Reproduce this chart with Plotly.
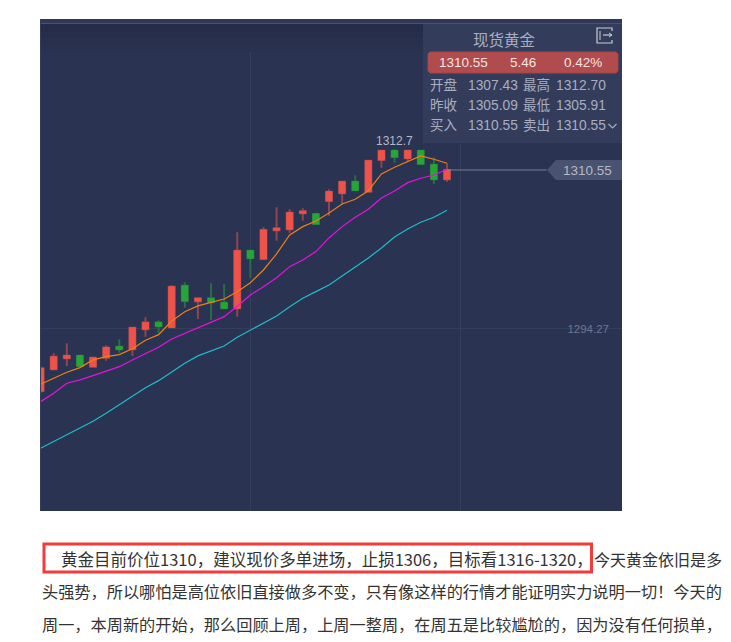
import plotly.graph_objects as go

# ---- data ----
opens = [1287.92,1290.14,1291.27,1291.54,1290.41,1291.33,1292.46,1292.19,1294.24,1294.92,1294.44,1298.70,1297.11,1297.41,1296.96,1296.39,
         1302.29,1301.44,1304.38,1304.48,1306.12,1306.05,1307.38,1308.17,1309.35,1308.33,1311.58,1312.53,1311.75,1312.53,1311.09,1309.60]
closes = [1290.25,1291.43,1291.54,1290.48,1291.33,1292.36,1292.19,1294.40,1294.92,1294.55,1298.60,1297.14,1297.41,1297.00,1296.39,1302.29,
          1301.51,1304.41,1304.58,1306.18,1306.32,1305.02,1308.33,1309.35,1308.47,1311.50,1312.53,1311.88,1312.53,1311.17,1309.60,1310.55]
highs = [1290.40,1291.78,1292.81,1291.54,1291.43,1292.60,1293.22,1294.40,1295.47,1295.16,1298.75,1299.05,1297.52,1298.95,1298.88,1304.17,
         1302.29,1304.68,1306.73,1306.53,1306.63,1306.12,1308.58,1309.35,1310.01,1311.50,1312.53,1312.70,1312.53,1312.60,1311.85,1311.24]
lows = [1287.70,1290.14,1290.48,1290.48,1290.35,1291.02,1291.84,1291.51,1293.48,1293.83,1294.44,1296.45,1295.29,1295.19,1296.39,1295.53,
        1299.52,1301.34,1303.31,1304.13,1305.36,1304.95,1305.87,1307.07,1308.47,1308.33,1310.79,1311.30,1311.40,1311.17,1309.12,1309.35]
ma_orange = [1288.61,1289.25,1289.84,1290.31,1291.10,1291.43,1291.64,1292.25,1293.11,1293.69,1295.09,1296.04,1296.63,1297.00,1297.34,1298.09,
             1299.01,1300.31,1301.95,1303.90,1304.75,1305.33,1306.15,1307.07,1307.55,1308.43,1310.14,1310.83,1311.40,1311.99,1311.65,1311.24]
ma_magenta = [1286.83,1287.69,1288.71,1289.05,1289.49,1289.97,1290.41,1291.10,1291.78,1292.40,1293.25,1293.83,1294.40,1295.02,1295.53,1296.60,
              1297.75,1298.60,1299.52,1300.65,1301.34,1302.19,1303.59,1304.75,1305.71,1306.53,1307.68,1308.40,1309.25,1309.70,1310.04,1310.62]
ma_cyan = [1282.05,1282.73,1283.49,1284.16,1284.82,1285.64,1286.49,1287.34,1288.26,1288.98,1289.90,1290.76,1291.51,1292.05,1292.53,1293.42,
           1294.17,1294.88,1295.60,1296.55,1297.41,1298.09,1298.78,1299.70,1300.62,1301.54,1302.56,1303.69,1304.51,1305.20,1305.71,1306.43]
last_price = 1310.55
mid_price = 1294.27
high_price = 1312.7
title_text = "现货黄金"
quote_bar = ["1310.55", "5.46", "0.42%"]
quote_rows = [["开盘", "1307.43", "最高", "1312.70"],
              ["昨收", "1305.09", "最低", "1305.91"],
              ["买入", "1310.55", "卖出", "1310.55"]]
para_boxed = "黄金目前价位1310，建议现价多单进场，止损1306，目标看1316-1320，"
para_rest = "今天黄金依旧是多"
para_lines = ["头强势，所以哪怕是高位依旧直接做多不变，只有像这样的行情才能证明实力说明一切！今天的",
              "周一，本周新的开始，那么回顾上周，上周一整周，在周五是比较尴尬的，因为没有任何损单，"]

# ---- layout helpers ----
W, H = 731, 642
L, R, T, B = 40, 622, 19, 511
fx = lambda x: (x - L) / (R - L)
fy = lambda y: (B - y) / (B - T)
BG = "#2a3352"
GRID = "#353e5c"
CJK = "Noto Sans CJK SC"
NUM = "Liberation Sans"
xs = list(range(len(opens)))

fig = go.Figure()
fig.add_trace(go.Candlestick(x=xs, open=opens, close=closes, high=highs, low=lows,
    increasing=dict(line=dict(color="#8f4650", width=2), fillcolor="#8f4650"),
    decreasing=dict(line=dict(color="#2b6b48", width=2), fillcolor="#2b6b48"),
    whiskerwidth=0, hoverinfo="skip", showlegend=False))
fig.add_trace(go.Candlestick(x=xs, open=opens, close=closes,
    high=[max(a, b) for a, b in zip(opens, closes)],
    low=[min(a, b) for a, b in zip(opens, closes)],
    increasing=dict(line=dict(color="#ee5349", width=1), fillcolor="#ee5349"),
    decreasing=dict(line=dict(color="#27a637", width=1), fillcolor="#27a637"),
    whiskerwidth=0, hoverinfo="skip", showlegend=False))
for vals, col in ((ma_cyan, "#1fbccc"), (ma_magenta, "#e812e0"), (ma_orange, "#f07f10")):
    fig.add_trace(go.Scatter(x=xs, y=vals, mode="lines", line=dict(color=col, width=1.2),
                             hoverinfo="skip", showlegend=False))

def rect(x0, y0, x1, y1, fill=None, line=None, lw=1):
    return dict(type="rect", xref="paper", yref="paper", x0=fx(x0), x1=fx(x1), y0=fy(y0), y1=fy(y1),
                fillcolor=fill or "rgba(0,0,0,0)", line=dict(color=line or "rgba(0,0,0,0)", width=lw), layer="above")

def poly(points, fill=None, line=None, lw=1, closed=True):
    d = "M" + " L".join(f"{fx(x):.5f},{fy(y):.5f}" for x, y in points) + (" Z" if closed else "")
    return dict(type="path", xref="paper", yref="paper", path=d, fillcolor=fill or "rgba(0,0,0,0)",
                line=dict(color=line or "rgba(0,0,0,0)", width=lw), layer="above")

ICON = "#c9ccd6"
shapes = [
    # top strip and soft dark band
    rect(40, 19, 622, 23, fill="#2f3858"),
    rect(40, 24, 622, 31, fill="#252c49"),
    rect(40, 31, 622, 38, fill="#262e4b"),
    rect(40, 38, 622, 45, fill="#28304e"),
    rect(40, 45, 622, 52, fill="#293150"),
    rect(40, 23, 622, 24, fill="#48516f"),
    rect(40, 19, 41, 511, fill="#343d5c"),
    # quote panel
    rect(423, 24, 622, 143, fill="#333c5a"),
    poly([(430, 52), (616, 52), (618, 54), (618, 71), (616, 73), (430, 73), (428, 71), (428, 54)],
         fill="#b04c4d", line="#a84546"),
    # expand icon
    poly([(612, 31), (612, 28), (597, 28), (597, 43), (612, 43), (612, 40)], line=ICON, lw=1.2, closed=False),
    poly([(600, 31), (600, 40)], line=ICON, lw=1, closed=False),
    poly([(603, 35), (612, 35)], line=ICON, lw=1.2, closed=False),
    poly([(609, 33), (612, 35), (609, 37)], line=ICON, lw=1, closed=False),
    # chevron
    poly([(608.5, 124), (612.5, 128), (616.5, 124)], line="#a8adbf", lw=1.2, closed=False),
    # last price line and tag
    dict(type="line", xref="x", yref="y", x0=31, x1=xs[-1] + 7.6, y0=last_price, y1=last_price,
         line=dict(color="#8a90a4", width=0.8), layer="above"),
    poly([(547, 170), (556, 160), (622, 160), (622, 180), (556, 180)], fill="#495270"),
    # highlight rectangle
    rect(44, 544, 591.5, 572, line="#f53a3a", lw=3),
]

def note(x, y, text, size, color, font=NUM, anchor="left"):
    return dict(xref="paper", yref="paper", x=fx(x), y=fy(y), text=text, showarrow=False,
                xanchor=anchor, yanchor="middle", font=dict(family=font, size=size, color=color))

GREY = "#a9aec0"
anns = [note(504, 39, title_text, 15.5, GREY, CJK, "center"),
        note(463, 62.5, quote_bar[0], 13.5, "#f3e4e4", NUM, "center"),
        note(523, 62.5, quote_bar[1], 13.5, "#f3e4e4", NUM, "center"),
        note(583, 62.5, quote_bar[2], 13.5, "#f3e4e4", NUM, "center"),
        note(587, 170.5, f"{last_price:.2f}", 13.5, "#b5b8c4", NUM, "center"),
        dict(x=xs[27], y=high_price, xref="x", yref="y", text=f"{high_price}", showarrow=False, yanchor="bottom",
             yshift=-1, font=dict(family=NUM, size=12, color="#b4b8c6"))]
for row, y in zip(quote_rows, (85, 105, 125)):
    anns += [note(428, y - 1, row[0], 13.5, GREY, CJK), note(466, y, row[1], 13.8, GREY),
             note(521, y - 1, row[2], 13.5, GREY, CJK), note(554, y, row[3], 13.8, GREY)]
anns.append(note(58.5, 559, para_boxed, 16.5, "#333333", CJK))
anns.append(note(592, 559, para_rest, 16, "#333333", CJK))
for line, y in zip(para_lines, (591, 624)):
    anns.append(note(40, y, line, 16.2, "#333333", CJK))

fig.update_layout(
    width=W, height=H, autosize=False,
    margin=dict(l=L, r=W - R, t=T, b=H - B, pad=0),
    paper_bgcolor="white", plot_bgcolor=BG,
    xaxis=dict(range=[-0.046, 44.35], rangeslider=dict(visible=False), tickvals=[16, 32],
               showticklabels=False, showgrid=True, gridcolor=GRID, gridwidth=1, zeroline=False, ticks=""),
    yaxis=dict(range=[1275.63, 1326.01], side="right", tickvals=[mid_price], ticktext=[f"{mid_price:.2f}"],
               ticklabelposition="inside", ticklabelstandoff=10, showgrid=True, gridcolor=GRID, zeroline=False,
               tickfont=dict(family=NUM, size=11.5, color="#6f7690"), ticks=""),
    shapes=shapes, annotations=anns, boxgap=0.35, hovermode=False,
)
fig.write_html("out.html", post_script="document.body.style.margin='0';", config=dict(displayModeBar=False))
